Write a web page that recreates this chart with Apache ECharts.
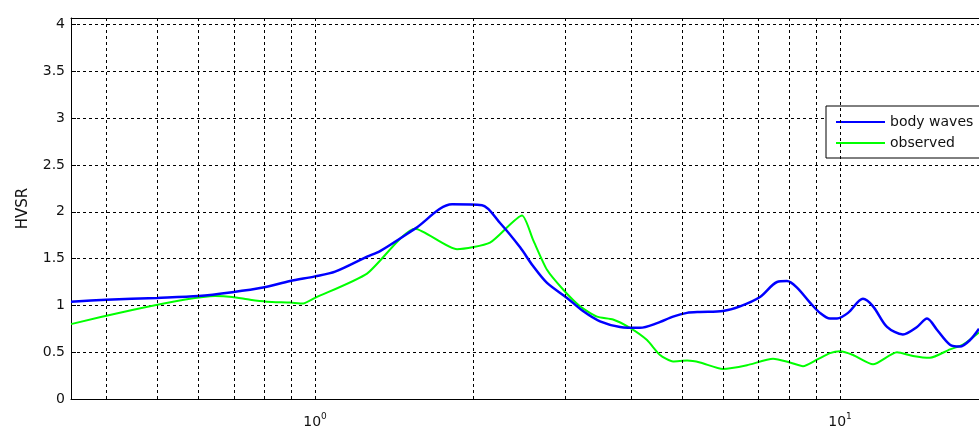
<!DOCTYPE html>
<html>
<head>
<meta charset="utf-8">
<script src="https://cdn.jsdelivr.net/npm/echarts@6/dist/echarts.min.js"></script>
<style>
  html, body { margin: 0; padding: 0; background: #fff; }
  #chart { width: 979px; height: 426px; }
</style>
</head>
<body>
<div id="chart"></div>
<script>
// Frequency (Hz) and HVSR amplitude for each curve
const bodyFreq = [0.3428, 0.40, 0.50, 0.60, 0.695, 0.796, 0.896, 1.0, 1.092, 1.256, 1.33, 1.551, 1.824, 2.08,
  2.251, 2.458, 2.602, 2.766, 3.02, 3.239, 3.49, 3.811, 4.159, 4.482, 4.808, 5.112, 5.412, 5.985,
  6.45, 7.041, 7.586, 7.925, 8.281, 8.767, 9.16, 9.572, 9.87, 10.36, 11.06, 11.56, 12.29, 13.18, 14.02,
  14.65, 15.30, 16.20, 16.93, 17.69, 18.40];
const bodyHvsr = [1.04, 1.06, 1.08, 1.10, 1.14, 1.19, 1.26, 1.31, 1.36, 1.52, 1.58, 1.82, 2.08, 2.07,
  1.88, 1.62, 1.42, 1.24, 1.08, 0.94, 0.83, 0.77, 0.76, 0.81, 0.88, 0.92, 0.93, 0.94,
  0.99, 1.09, 1.25, 1.26, 1.19, 1.03, 0.92, 0.86, 0.86, 0.92, 1.07, 0.99, 0.77, 0.69, 0.77,
  0.86, 0.74, 0.58, 0.56, 0.63, 0.75];

const obsFreq = [0.3428, 0.645, 0.695, 0.752, 0.81, 0.896, 0.949, 1.0, 1.256, 1.551, 1.864, 2.154, 2.479,
  2.602, 2.766, 2.968, 3.197, 3.444, 3.695, 3.981, 4.289, 4.541, 4.808, 5.112, 5.412, 5.985, 6.651,
  7.455, 8.03, 8.502, 9.041, 9.572, 10.0, 10.59, 11.56, 12.84, 13.77, 14.84, 16.20, 17.15, 18.40];
const obsHvsr = [0.80, 1.10, 1.09, 1.06, 1.04, 1.03, 1.02, 1.08, 1.34, 1.82, 1.60, 1.67, 1.96,
  1.70, 1.38, 1.17, 0.99, 0.88, 0.85, 0.76, 0.63, 0.47, 0.40, 0.41, 0.39, 0.32, 0.36,
  0.43, 0.39, 0.35, 0.42, 0.49, 0.51, 0.47, 0.37, 0.50, 0.46, 0.44, 0.53, 0.58, 0.71];

// Logarithmic grid positions on the frequency axis
const freqGrid = [0.4, 0.5, 0.6, 0.7, 0.8, 0.9, 1, 2, 3, 4, 5, 6, 7, 8, 9, 10];

const seriesNames = ['body waves', 'observed'];
const FONT = 'DejaVu Sans';
const X_MIN = 0.3428, X_MAX = 18.40;

const zip = (xs, ys) => xs.map((x, i) => [x, ys[i]]);

const chart = echarts.init(document.getElementById('chart'), null, { renderer: 'canvas' });

chart.setOption({
  animation: false,
  backgroundColor: '#fff',
  grid: { left: 71, right: 0, top: 18, bottom: 27, show: false, outerBoundsMode: 'none', containLabel: false },
  legend: {
    data: seriesNames,
    orient: 'vertical',
    left: 826, top: 106,
    padding: [9, 24, 8, 10],
    itemGap: 7,
    itemWidth: 49, itemHeight: 2,
    icon: 'rect',
    backgroundColor: '#fff',
    borderColor: '#000', borderWidth: 1, borderRadius: 0,
    textStyle: { fontFamily: FONT, fontSize: 14, color: '#111' }
  },
  xAxis: [
    {
      type: 'log', logBase: 10, min: X_MIN, max: X_MAX, position: 'bottom',
      axisLine: { show: true, onZero: false, lineStyle: { color: '#000', width: 1 } },
      axisTick: { show: false },
      splitLine: { show: false },
      axisLabel: {
        margin: 13,
        showMinLabel: false, showMaxLabel: false,
        formatter: v => {
          const e = Math.log10(v);
          if (Math.abs(e - Math.round(e)) > 1e-6) return '';
          return '{b|10}{s|' + Math.round(e) + '}';
        },
        rich: {
          b: { fontFamily: FONT, fontSize: 14, color: '#111' },
          s: { fontFamily: FONT, fontSize: 9, color: '#111', padding: [0, 0, 11, 0] }
        }
      }
    },
    {
      // top frame line
      type: 'log', logBase: 10, min: X_MIN, max: X_MAX, position: 'top',
      axisLine: { show: true, onZero: false, lineStyle: { color: '#000', width: 1 } },
      axisTick: { show: false }, axisLabel: { show: false }, splitLine: { show: false }
    }
  ],
  yAxis: {
    type: 'value', min: 0, max: 4.07, interval: 0.5,
    name: 'HVSR', nameLocation: 'middle', nameGap: 40, nameRotate: 90,
    nameTextStyle: { fontFamily: FONT, fontSize: 15, color: '#111' },
    axisLine: { show: true, onZero: false, lineStyle: { color: '#000', width: 1 } },
    axisTick: { show: true, inside: true, length: 5, lineStyle: { color: '#000' } },
    splitLine: { show: true, lineStyle: { color: '#000', type: [3, 3], width: 1 } },
    axisLabel: {
      margin: 6, fontFamily: FONT, fontSize: 14, color: '#111',
      formatter: v => (v <= 4.0001 && Math.abs(v * 2 - Math.round(v * 2)) < 1e-6) ? String(v) : ''
    }
  },
  series: [
    {
      type: 'line', data: [], silent: true, z: 1,
      markLine: {
        silent: true, symbol: ['none', 'none'], animation: false,
        label: { show: false },
        lineStyle: { color: '#000', type: [3, 3], width: 1 },
        data: freqGrid.map(f => ({ xAxis: f }))
      }
    },
    {
      name: seriesNames[0], type: 'line', data: zip(bodyFreq, bodyHvsr), z: 3,
      symbol: 'none', smooth: 0.3,
      lineStyle: { color: '#0000ff', width: 2.5 }, itemStyle: { color: '#0000ff' }
    },
    {
      name: seriesNames[1], type: 'line', data: zip(obsFreq, obsHvsr), z: 2,
      symbol: 'none', smooth: 0.2,
      lineStyle: { color: '#00ff00', width: 2 }, itemStyle: { color: '#00ff00' }
    }
  ]
});
</script>
</body>
</html>
